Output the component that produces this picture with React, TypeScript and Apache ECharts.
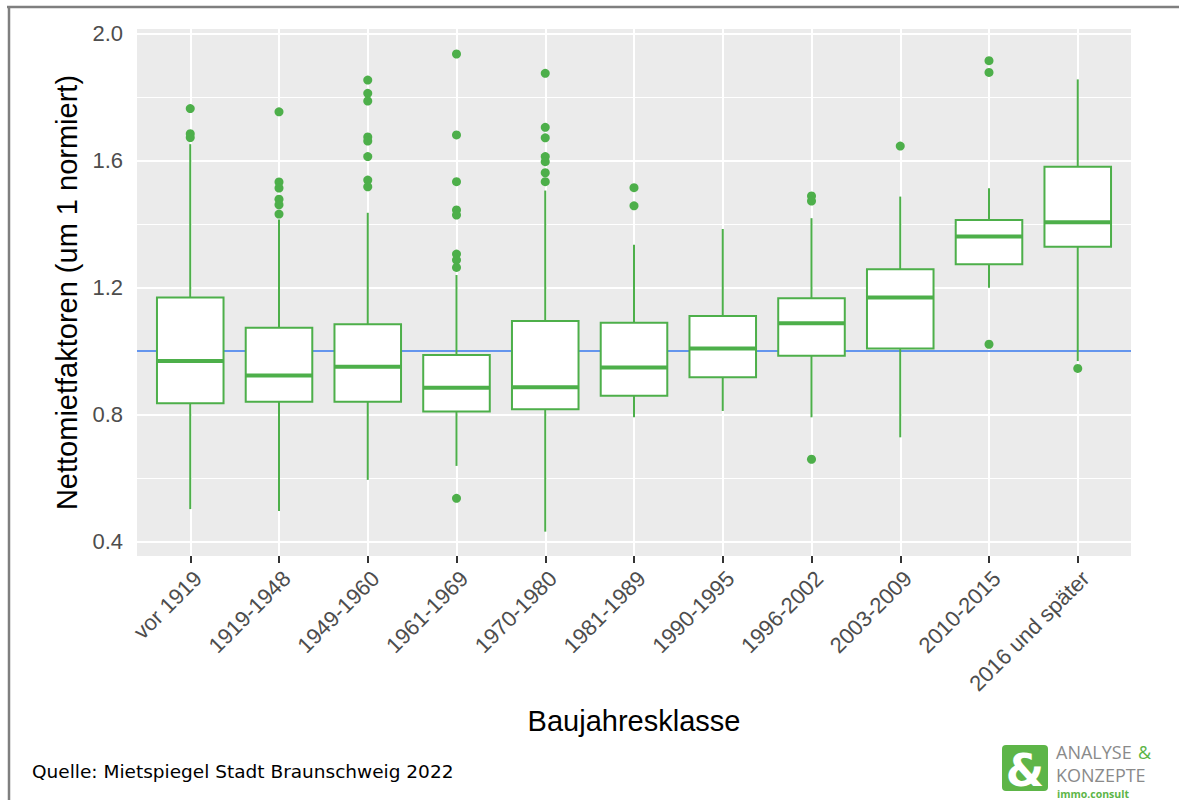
import React, { useEffect, useRef } from "react";
import * as echarts from "echarts";

const categories = [
  "vor 1919",
  "1919-1948",
  "1949-1960",
  "1961-1969",
  "1970-1980",
  "1981-1989",
  "1990-1995",
  "1996-2002",
  "2003-2009",
  "2010-2015",
  "2016 und später",
];
const whiskerLow = [0.502, 0.496, 0.594, 0.638, 0.431, 0.791, 0.811, 0.791, 0.728, 1.199, 0.968];
const q1 = [0.835, 0.84, 0.84, 0.809, 0.816, 0.859, 0.917, 0.985, 1.008, 1.273, 1.328];
const median = [0.968, 0.923, 0.95, 0.884, 0.886, 0.948, 1.008, 1.087, 1.168, 1.36, 1.405];
const q3 = [1.168, 1.073, 1.084, 0.987, 1.094, 1.089, 1.11, 1.166, 1.257, 1.412, 1.58];
const whiskerHigh = [1.651, 1.414, 1.435, 1.239, 1.505, 1.334, 1.384, 1.418, 1.486, 1.512, 1.855];

const outliers: [number, number][] = [
  [0, 1.763], [0, 1.684], [0, 1.672],
  [1, 1.753], [1, 1.532], [1, 1.513], [1, 1.478], [1, 1.46], [1, 1.431],
  [2, 1.853], [2, 1.811], [2, 1.787], [2, 1.674], [2, 1.661], [2, 1.612], [2, 1.538], [2, 1.517],
  [3, 1.935], [3, 1.68], [3, 1.533], [3, 1.444], [3, 1.428], [3, 1.305], [3, 1.286], [3, 1.263], [3, 0.536],
  [4, 1.874], [4, 1.704], [4, 1.671], [4, 1.612], [4, 1.596], [4, 1.561], [4, 1.533],
  [5, 1.514], [5, 1.457],
  [7, 1.488], [7, 1.472], [7, 0.659],
  [8, 1.645],
  [9, 1.914], [9, 1.877], [9, 1.021],
  [10, 0.945],
];

const yTicks = [0.4, 0.8, 1.2, 1.6, 2.0];
const yMinor = [0.6, 1.0, 1.4, 1.8];
const referenceValue = 1.0;

const GREEN = "#4DAF4A";
const LOGO_GREEN = "#5DB548";

export default function App() {
  const ref = useRef<HTMLDivElement>(null);

  useEffect(() => {
    if (!ref.current) return;
    const chart = echarts.init(ref.current, undefined, { renderer: "svg" });
    const idx = categories.map((_, i) => i);
    const boxData = categories.map((_, i) => [i, whiskerLow[i], q1[i], median[i], q3[i], whiskerHigh[i]]);

    const option: any = {
      animation: false,
      grid: {
        left: 137,
        right: 48,
        top: 29,
        bottom: 244,
        show: true,
        backgroundColor: "#EBEBEB",
        borderWidth: 0,
      },
      xAxis: {
        type: "value",
        min: -0.6,
        max: 10.6,
        axisLine: { show: false },
        splitLine: { show: false },
        axisTick: { show: true, length: 7, lineStyle: { color: "#333333", width: 2 }, customValues: idx },
        axisLabel: {
          customValues: idx,
          formatter: (v: number) => categories[Math.round(v)],
          rotate: 45,
          align: "right",
          verticalAlign: "top",
          fontSize: 22,
          color: "#4D4D4D",
          fontFamily: "Liberation Sans",
          margin: 11,
        },
        name: "Baujahresklasse",
        nameLocation: "middle",
        nameGap: 150,
        nameTextStyle: { fontSize: 29, color: "#000000", fontFamily: "Liberation Sans" },
      },
      yAxis: {
        type: "value",
        min: 0.3543,
        max: 2.0137,
        axisLine: { show: false },
        splitLine: { show: false },
        axisTick: { show: true, length: 6, lineStyle: { color: "#333333", width: 2 }, customValues: yTicks },
        axisLabel: {
          customValues: yTicks,
          formatter: (v: number) => v.toFixed(1),
          fontSize: 22,
          color: "#4D4D4D",
          fontFamily: "Liberation Sans",
          margin: 14,
        },
        name: "Nettomietfaktoren (um 1 normiert)",
        nameLocation: "middle",
        nameRotate: 90,
        nameGap: 46,
        nameTextStyle: { fontSize: 29, color: "#000000", fontFamily: "Liberation Sans" },
      },
      series: [
        {
          type: "line",
          data: [],
          z: 1,
          silent: true,
          markLine: {
            z: 1,
            silent: true,
            symbol: ["none", "none"],
            label: { show: false },
            lineStyle: { color: "#FFFFFF", width: 1, type: "solid" },
            data: yMinor.map((v) => ({ yAxis: v })),
          },
        },
        {
          type: "line",
          data: [],
          z: 1,
          silent: true,
          markLine: {
            z: 1,
            silent: true,
            symbol: ["none", "none"],
            label: { show: false },
            lineStyle: { color: "#FFFFFF", width: 2, type: "solid" },
            data: [...yTicks.map((v) => ({ yAxis: v })), ...idx.map((i) => ({ xAxis: i }))],
          },
        },
        {
          type: "line",
          data: [],
          z: 2,
          silent: true,
          markLine: {
            z: 2,
            silent: true,
            symbol: ["none", "none"],
            label: { show: false },
            lineStyle: { color: "#6495ED", width: 2, type: "solid" },
            data: [{ yAxis: referenceValue }],
          },
        },
        {
          type: "custom",
          z: 3,
          silent: true,
          data: boxData,
          encode: { x: 0, y: [1, 2, 3, 4, 5] },
          renderItem: (_params: any, api: any) => {
            const i = api.value(0);
            const lo = api.coord([i, api.value(1)]);
            const b1 = api.coord([i, api.value(2)]);
            const md = api.coord([i, api.value(3)]);
            const b3 = api.coord([i, api.value(4)]);
            const hi = api.coord([i, api.value(5)]);
            const w = api.size([0.75, 0])[0];
            const x0 = lo[0] - w / 2;
            const st = { stroke: GREEN, lineWidth: 2 };
            return {
              type: "group",
              children: [
                { type: "line", shape: { x1: lo[0], y1: hi[1], x2: lo[0], y2: b3[1] }, style: st },
                { type: "line", shape: { x1: lo[0], y1: b1[1], x2: lo[0], y2: lo[1] }, style: st },
                {
                  type: "rect",
                  shape: { x: x0, y: b3[1], width: w, height: b1[1] - b3[1] },
                  style: { fill: "#FFFFFF", stroke: GREEN, lineWidth: 2 },
                },
                {
                  type: "line",
                  shape: { x1: x0, y1: md[1], x2: x0 + w, y2: md[1] },
                  style: { stroke: GREEN, lineWidth: 4 },
                },
              ],
            };
          },
        },
        {
          type: "scatter",
          z: 4,
          silent: true,
          data: outliers,
          symbol: "circle",
          symbolSize: 9,
          itemStyle: { color: GREEN, opacity: 1 },
        },
      ],
      graphic: [
        { type: "line", shape: { x1: 7, y1: 7, x2: 1179, y2: 7 }, style: { stroke: "#7F7F7F", lineWidth: 2.5 } },
        { type: "line", shape: { x1: 9, y1: 6, x2: 9, y2: 800 }, style: { stroke: "#7F7F7F", lineWidth: 2.5 } },
        {
          type: "text",
          x: 32,
          y: 771,
          style: {
            text: "Quelle: Mietspiegel Stadt Braunschweig 2022",
            fontSize: 18.5,
            fontFamily: "DejaVu Sans",
            fill: "#000000",
            verticalAlign: "middle",
          },
        },
        {
          type: "rect",
          shape: { x: 1002, y: 745, width: 46, height: 46, r: 4 },
          style: { fill: LOGO_GREEN },
        },
        {
          type: "text",
          x: 1025,
          y: 770,
          style: {
            text: "&",
            fontSize: 44,
            fontWeight: "bold",
            fontFamily: "DejaVu Sans",
            fill: "#FFFFFF",
            align: "center",
            verticalAlign: "middle",
          },
        },
        {
          type: "text",
          x: 1056,
          y: 752.3,
          style: {
            text: "ANALYSE",
            fontSize: 18,
            fontFamily: "Open Sans",
            fill: "#8A8A8A",
            verticalAlign: "middle",
          },
        },
        {
          type: "text",
          x: 1138,
          y: 752.3,
          style: {
            text: "&",
            fontSize: 18,
            fontFamily: "Open Sans",
            fill: LOGO_GREEN,
            verticalAlign: "middle",
          },
        },
        {
          type: "text",
          x: 1056,
          y: 774.5,
          style: {
            text: "KONZEPTE",
            fontSize: 18,
            fontFamily: "Open Sans",
            fill: "#8A8A8A",
            verticalAlign: "middle",
          },
        },
        {
          type: "text",
          x: 1057,
          y: 794,
          style: {
            text: "immo.consult",
            fontSize: 10.5,
            fontWeight: "bold",
            fontFamily: "Open Sans",
            fill: LOGO_GREEN,
            verticalAlign: "middle",
          },
        },
      ],
    };

    chart.setOption(option);
    return () => chart.dispose();
  }, []);

  return (
    <div
      ref={ref}
      style={{ position: "absolute", left: 0, top: 0, width: 1179, height: 800, background: "#FFFFFF" }}
    />
  );
}
